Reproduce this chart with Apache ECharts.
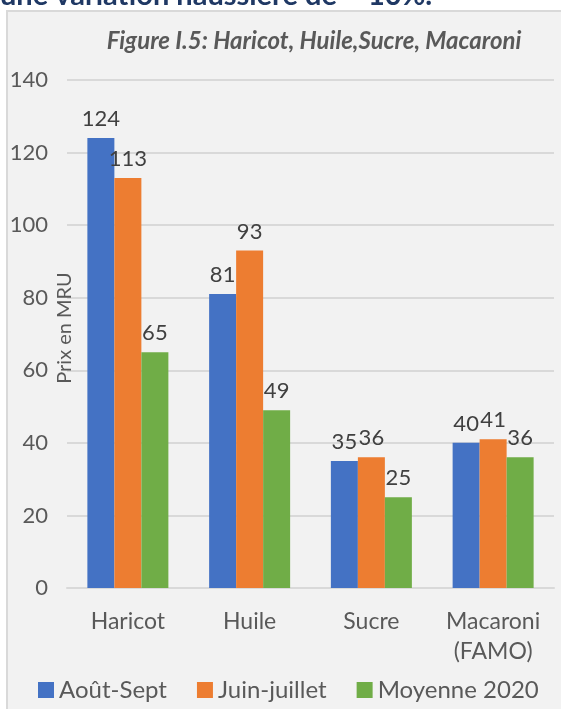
<!DOCTYPE html>
<html>
<head>
<meta charset="utf-8">
<script src="https://cdn.jsdelivr.net/npm/echarts@6/dist/echarts.min.js"></script>
<style>
  html, body { margin: 0; padding: 0; background: #fff; }
  #chart { width: 561px; height: 709px; }
</style>
</head>
<body>
<div id="chart"></div>
<script>
const categories = ['Haricot', 'Huile', 'Sucre', 'Macaroni\n(FAMO)']
const seriesNames = ['Août-Sept', 'Juin-juillet', 'Moyenne 2020']
const aoutSept = [124, 81, 35, 40]
const juinJuillet = [113, 93, 36, 41]
const moyenne2020 = [65, 49, 25, 36]
const colors = ['#4472c4', '#ed7d31', '#70ad47']

const font = 'Lato'
const chart = echarts.init(document.getElementById('chart'))

function makeSeries(name, data, color) {
  return {
    name: name,
    type: 'bar',
    barWidth: 27,
    barGap: '0%',
    data: data,
    itemStyle: { color: color },
    label: {
      show: true,
      position: 'top',
      distance: 8,
      fontFamily: font,
      fontSize: 22,
      color: '#404040'
    }
  }
}

chart.setOption({
  backgroundColor: '#ffffff',
  animation: false,
  textStyle: { fontFamily: font },
  graphic: [
    {
      type: 'rect',
      z: -10,
      shape: { x: 7, y: 11, width: 600, height: 720 },
      style: { fill: '#f2f2f2', stroke: '#d9d9d9', lineWidth: 2 }
    },
    {
      type: 'text',
      left: 0,
      top: -19,
      style: {
        text: 'une variation haussière de ~ 10%.',
        fontFamily: font,
        fontWeight: 'bold',
        fontSize: 29,
        fill: '#1f3864'
      }
    }
  ],
  title: {
    text: 'Figure I.5: Haricot, Huile,Sucre, Macaroni',
    left: 309,
    textAlign: 'center',
    top: 24,
    textStyle: {
      fontFamily: font,
      fontStyle: 'italic',
      fontWeight: 'bold',
      fontSize: 24,
      color: '#595959'
    }
  },
  legend: {
    data: seriesNames,
    left: 33,
    top: 673,
    icon: 'rect',
    itemWidth: 16,
    itemHeight: 16,
    itemGap: 30,
    itemStyle: { borderWidth: 0 },
    textStyle: { fontFamily: font, fontSize: 24, color: '#595959' }
  },
  grid: {
    left: 67,
    right: 7,
    top: 80,
    bottom: 121,
    outerBoundsMode: 'none',
    containLabel: false
  },
  xAxis: {
    type: 'category',
    data: categories,
    axisLine: { lineStyle: { color: '#d9d9d9', width: 2 } },
    axisTick: { show: false },
    axisLabel: {
      interval: 0,
      fontFamily: font,
      fontSize: 23,
      color: '#595959',
      margin: 19,
      lineHeight: 30
    }
  },
  yAxis: {
    type: 'value',
    min: 0,
    max: 140,
    interval: 20,
    name: 'Prix en MRU',
    nameLocation: 'middle',
    nameRotate: 90,
    nameGap: -8,
    nameMoveOverlap: false,
    nameTextStyle: { fontFamily: font, fontSize: 20, color: '#595959', padding: [0, 0, 0, 12] },
    axisLine: { show: false },
    axisTick: { show: false },
    axisLabel: {
      fontFamily: font,
      fontSize: 22,
      color: '#595959',
      margin: 19
    },
    splitLine: { lineStyle: { color: '#d9d9d9', width: 2 } }
  },
  series: [
    makeSeries(seriesNames[0], aoutSept, colors[0]),
    makeSeries(seriesNames[1], juinJuillet, colors[1]),
    makeSeries(seriesNames[2], moyenne2020, colors[2])
  ]
})
</script>
</body>
</html>
